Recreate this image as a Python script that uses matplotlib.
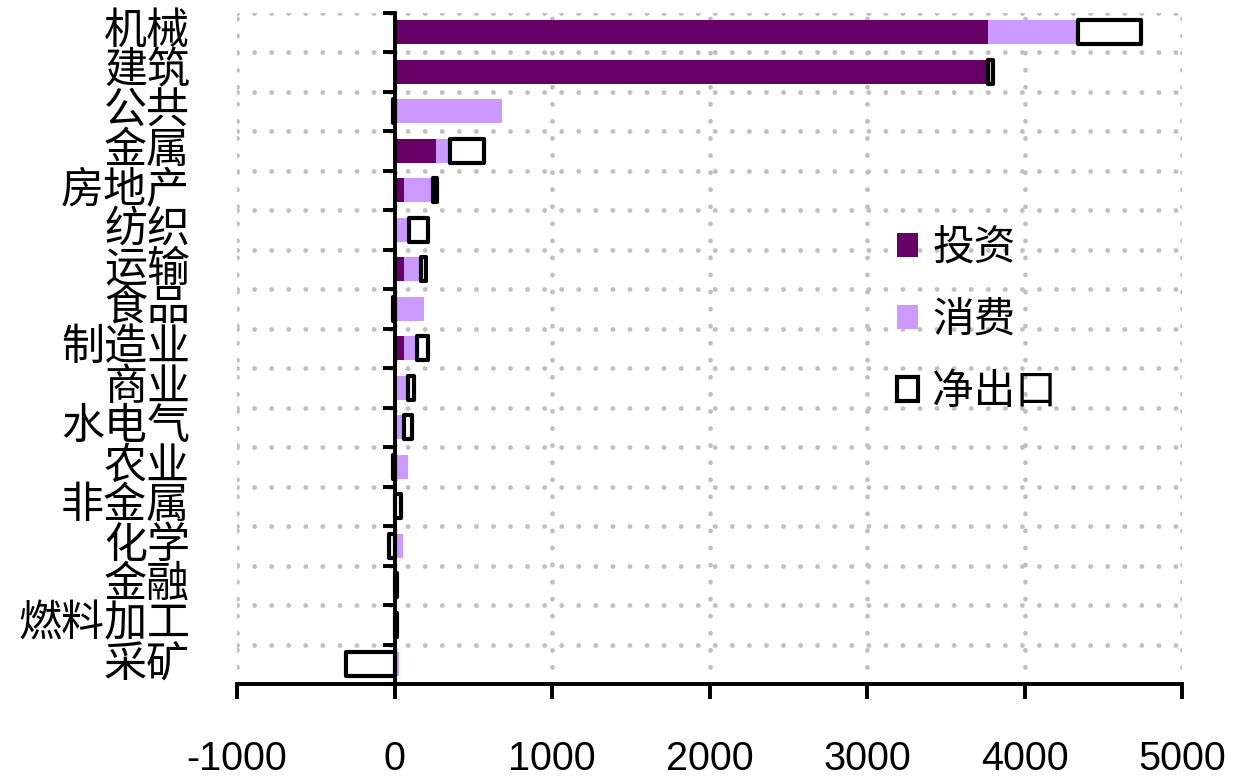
import matplotlib
matplotlib.use("Agg")
import matplotlib.pyplot as plt
import matplotlib.transforms as mtransforms
import numpy as np

plt.rcParams['axes.unicode_minus'] = False

categories = ["机械", "建筑", "公共", "金属", "房地产", "纺织", "运输", "食品", "制造业",
              "商业", "水电气", "农业", "非金属", "化学", "金融", "燃料加工", "采矿"]
invest = [3770, 3770, 0, 265, 60, 0, 60, 0, 60, 0, 0, 0, 0, 0, 0, 0, 0]
consume = [570, 0, 680, 85, 185, 90, 110, 190, 80, 85, 60, 85, 0, 55, 0, 0, 30]
netexport = [400, 30, -10, 220, 25, 120, 30, -10, 75, 40, 50, -10, 40, -35, 15, 15, -310]
series_names = ["投资", "消费", "净出口"]
xticks = [-1000, 0, 1000, 2000, 3000, 4000, 5000]

cjk = "Noto Sans CJK SC"
latin = "Liberation Sans"

inv = np.array(invest, dtype=float)
con = np.array(consume, dtype=float)
net = np.array(netexport, dtype=float)
y = np.arange(len(categories))

fig = plt.figure(figsize=(12.42, 7.78), dpi=100)
ax = fig.add_axes([237 / 1242, 1 - 684 / 778, 945 / 1242, 671.5 / 778])

h = 0.61
b1 = ax.barh(y, inv, height=h, color="#660066", label=series_names[0], zorder=3)
b2 = ax.barh(y, con, left=inv, height=h, color="#CC99FF", label=series_names[1], zorder=3)
# negative net exports start at zero, positive ones stack on top
net_left = np.where(net >= 0, inv + con, 0)
b3 = ax.barh(y, net, left=net_left, height=h, facecolor="white", edgecolor="black",
             linewidth=3.0, label=series_names[2], zorder=4)
for p in b3:
    p.set_joinstyle("round")

ax.set_xlim(-1000, 5000)
ax.set_ylim(len(categories) - 0.5, -0.5)

for s in ["top", "right"]:
    ax.spines[s].set_visible(False)
ax.spines["left"].set_position(("data", 0))
for s in ["left", "bottom"]:
    ax.spines[s].set_linewidth(2.8)
    ax.spines[s].set_zorder(5)

ax.set_xticks(xticks)
ax.set_xticklabels([str(v) for v in xticks], fontfamily=latin, fontsize=28.5)
ax.tick_params(axis="x", direction="out", length=10.5, width=2.8, pad=30)

ax.set_yticks([])
ax.set_yticks(np.arange(-0.5, len(categories), 1), minor=True)
ax.tick_params(axis="y", which="minor", direction="out", length=9, width=2.8, labelleft=False)

dots = (0, (0.01, 3.5))
ax.grid(True, axis="x", which="major", color="#C0C0C0", linewidth=3.5, linestyle=dots)
ax.grid(True, axis="y", which="minor", color="#C0C0C0", linewidth=3.5, linestyle=dots)
for t in ax.xaxis.get_major_ticks() + ax.yaxis.get_minor_ticks():
    t.gridline.set_dash_capstyle("round")
ax.set_axisbelow(True)

trans = mtransforms.blended_transform_factory(ax.transAxes, ax.transData)
for yi, name in zip(y, categories):
    ax.text(-47 / 945, yi, name, transform=trans, ha="right", va="center",
            fontfamily=cjk, fontsize=31, clip_on=False)

leg = ax.legend(handles=[b1, b2, b3], loc="upper left",
                bbox_to_anchor=(897 / 1242, 1 - 228 / 778), bbox_transform=fig.transFigure,
                frameon=False, prop={"family": cjk, "size": 30},
                handlelength=0.5, handleheight=0.5, handletextpad=0.35,
                labelspacing=0.74, borderpad=0, borderaxespad=0)

fig.savefig("out.png", dpi=100)
